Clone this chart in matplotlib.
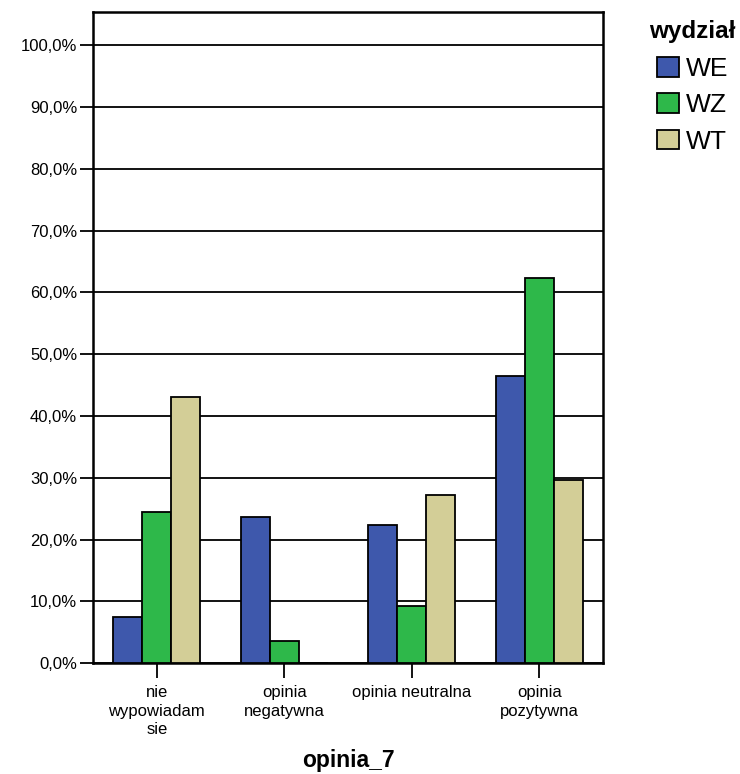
import matplotlib
matplotlib.use("Agg")
import matplotlib.pyplot as plt
import numpy as np
from matplotlib.patches import Patch

plt.rcParams['font.family'] = ['Liberation Sans', 'DejaVu Sans']

categories = ["nie\nwypowiadam\nsie", "opinia\nnegatywna", "opinia neutralna", "opinia\npozytywna"]
series_names = ["WE", "WZ", "WT"]
we = [7.5, 23.7, 22.3, 46.5]
wz = [24.4, 3.6, 9.3, 62.3]
wt = [43.1, 0.0, 27.2, 29.7]
yticks = [0, 10, 20, 30, 40, 50, 60, 70, 80, 90, 100]
ytick_labels = ["0,0%", "10,0%", "20,0%", "30,0%", "40,0%", "50,0%", "60,0%", "70,0%", "80,0%", "90,0%", "100,0%"]
colors = ["#3e58ac", "#2eb84a", "#d3ce97"]

fig = plt.figure(figsize=(7.4, 7.74), dpi=100)
ax = fig.add_axes([93/740, 1-663.3/774, (603-93)/740, (663.3-11.7)/774])

x = np.arange(len(categories))
w = 0.228
for i, (vals, c) in enumerate(zip([we, wz, wt], colors)):
    ax.bar(x + (i-1)*w, vals, width=w, color=c, edgecolor="black", linewidth=1.3, zorder=3)

ax.set_xlim(-0.5, 3.5)
ax.set_ylim(0, 105.4)
ax.set_yticks(yticks)
ax.set_yticklabels(ytick_labels, fontsize=12)
ax.set_xticks(x)
ax.set_xticklabels(categories, fontsize=12, linespacing=1.3)
ax.yaxis.grid(True, color="black", linewidth=1.3, zorder=1)
ax.set_axisbelow(True)
ax.tick_params(axis="y", length=9.4, width=1.3, pad=2)
ax.tick_params(axis="x", length=10.8, width=1.3, pad=5)
for s in ax.spines.values():
    s.set_linewidth(1.8)
ax.set_xlabel("opinia_7", fontsize=16.5, fontweight="bold", labelpad=8)

fig.text(649/740, 1-38/774, "wydział", fontsize=17.5, fontweight="bold", ha="left", va="baseline")
handles = [Patch(facecolor=c, edgecolor="black", linewidth=1.3) for c in colors]
leg = fig.legend(handles, series_names, loc="upper left", bbox_to_anchor=(657/740, 1-57/774),
                 frameon=False, fontsize=19,
                 handlelength=0.83, handleheight=0.76, handletextpad=0.25,
                 labelspacing=0.47, borderpad=0, borderaxespad=0)

fig.savefig("out.png", dpi=100)
